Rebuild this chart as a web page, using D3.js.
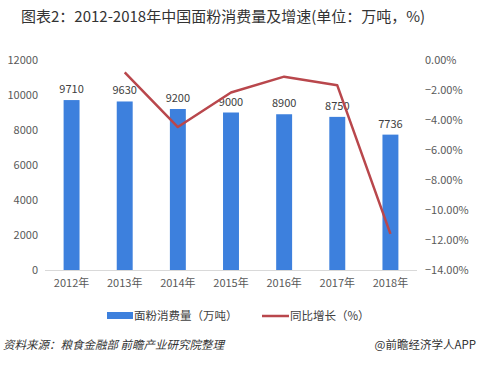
<!DOCTYPE html>
<html>
<head>
<meta charset="utf-8">
<script src="https://cdn.jsdelivr.net/npm/d3@7"></script>
<style>
  body { margin: 0; background: #fff; }
  text { font-family: "Noto Sans CJK SC", "Noto Sans", sans-serif; }
</style>
</head>
<body>
<div id="chart"></div>
<script>
// Data
const years = ["2012年", "2013年", "2014年", "2015年", "2016年", "2017年", "2018年"];
const consumption = [9710, 9630, 9200, 9000, 8900, 8750, 7736];
const growth = [null, -0.82, -4.47, -2.17, -1.11, -1.69, -11.59];
const leftTicks = [0, 2000, 4000, 6000, 8000, 10000, 12000];
const rightTicks = [0, -2, -4, -6, -8, -10, -12, -14];

const W = 479, H = 367;
const plot = { left: 45, right: 417, top: 60, bottom: 270 };

const svg = d3.select("#chart").append("svg")
    .attr("width", W)
    .attr("height", H);

// Title
svg.append("text")
    .attr("x", 21)
    .attr("y", 22)
    .style("font-size", "15px")
    .style("fill", "#333")
    .text("图表2：2012-2018年中国面粉消费量及增速(单位：万吨，%)");

const x = d3.scaleBand()
    .domain(years)
    .range([plot.left, plot.right])
    .paddingInner(0.7)
    .paddingOuter(0.35);

const yL = d3.scaleLinear().domain([0, 12000]).range([plot.bottom, plot.top]);
const yR = d3.scaleLinear().domain([-14, 0]).range([plot.bottom, plot.top]);

// Left axis
const gl = svg.append("g")
    .attr("class", "y-axis")
    .attr("transform", `translate(${plot.left - 7},0)`)
    .call(d3.axisLeft(yL).tickValues(leftTicks).tickSize(0).tickPadding(0).tickFormat(d3.format("d")));
gl.select("path").remove();
gl.selectAll("text").attr("fill", "#595959").style("font-size", "11px");

// Right axis
const gr = svg.append("g")
    .attr("class", "y2-axis")
    .attr("transform", `translate(${plot.right + 8},0)`)
    .call(d3.axisRight(yR).tickValues(rightTicks).tickSize(0).tickPadding(0)
        .tickFormat(d => d3.format(".2f")(d) + "%"));
gr.select("path").remove();
gr.selectAll("text").attr("fill", "#595959").style("font-size", "11px");

// Bars
svg.selectAll(".bar")
    .data(consumption)
    .enter()
    .append("rect")
    .attr("class", "bar")
    .attr("x", (d, i) => x(years[i]))
    .attr("y", d => yL(d))
    .attr("width", x.bandwidth())
    .attr("height", d => yL(0) - yL(d))
    .attr("fill", "#3d80dd");

// Bar labels
svg.selectAll(".bar-label")
    .data(consumption)
    .enter()
    .append("text")
    .attr("class", "bar-label")
    .attr("x", (d, i) => x(years[i]) + x.bandwidth() / 2)
    .attr("y", d => yL(d) - 7)
    .attr("text-anchor", "middle")
    .style("font-size", "11px")
    .style("fill", "#404040")
    .text(d => d);

// X axis
const gx = svg.append("g")
    .attr("class", "x-axis")
    .attr("transform", `translate(0,${plot.bottom})`)
    .call(d3.axisBottom(x).tickSize(0).tickPadding(9));
gx.select("path").attr("stroke", "#d9d9d9").attr("d", `M${plot.left},0.5H${plot.right}`);
gx.selectAll("text").attr("fill", "#595959").style("font-size", "11px");

// Growth line
const lineData = growth.map((g, i) => ({ year: years[i], g })).filter(d => d.g !== null);
const line = d3.line()
    .x(d => x(d.year) + x.bandwidth() / 2)
    .y(d => yR(d.g));
svg.append("path")
    .datum(lineData)
    .attr("d", line)
    .attr("fill", "none")
    .attr("stroke", "#b9474c")
    .attr("stroke-width", 2.5)
    .attr("stroke-linejoin", "round");

// Legend
const leg = svg.append("g").attr("transform", "translate(0,316)");
leg.append("rect").attr("x", 107).attr("y", -4).attr("width", 26).attr("height", 7).attr("fill", "#3d80dd");
leg.append("text").attr("x", 134).attr("y", 4).style("font-size", "11.5px").style("fill", "#404040")
    .text("面粉消费量（万吨）");
leg.append("line").attr("x1", 262).attr("x2", 289).attr("y1", 0).attr("y2", 0)
    .attr("stroke", "#b9474c").attr("stroke-width", 2.5);
leg.append("text").attr("x", 290).attr("y", 4).style("font-size", "11.5px").style("fill", "#404040")
    .text("同比增长（%）");

// Footer
svg.append("text")
    .attr("x", 3)
    .attr("y", 349)
    .style("font-size", "11.5px")
    .style("font-style", "italic")
    .style("fill", "#333")
    .text("资料来源：粮食金融部 前瞻产业研究院整理");
svg.append("text")
    .attr("x", 476)
    .attr("y", 349)
    .attr("text-anchor", "end")
    .style("font-size", "11.5px")
    .style("fill", "#333")
    .text("@前瞻经济学人APP");
</script>
</body>
</html>
